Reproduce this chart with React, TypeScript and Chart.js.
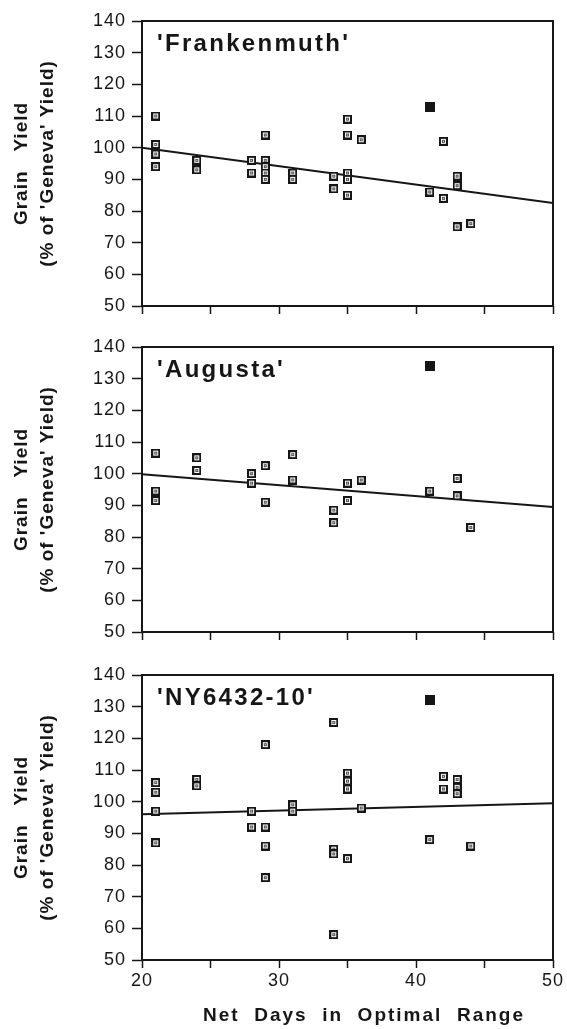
import React, { useEffect, useRef } from 'react';
import { Chart, registerables } from 'chart.js';

Chart.register(...registerables);

// ---------------- data ----------------
const xMin = 20;
const xMax = 50;
const yMin = 50;
const yMax = 140;
const xLabelValues = [20, 30, 40, 50];

const panelNames = ["'Frankenmuth'", "'Augusta'", "'NY6432-10'"];
const yTitleLines = ['Grain   Yield', "(% of 'Geneva' Yield)"];
const xTitle = 'Net  Days  in  Optimal  Range';

// 'Frankenmuth'
const frankX = [21, 21, 21, 21, 24, 24, 28, 28, 29, 29, 29, 29, 29, 31, 31, 34, 34, 35, 35, 35, 35, 35, 36, 41, 42, 42, 43, 43, 43, 44];
const frankY = [110, 101, 98, 94, 96, 93, 96, 92, 104, 96, 94, 92, 90, 92, 90, 91, 87, 109, 104, 92, 90, 85, 102.5, 86, 102, 84, 91, 88, 75, 76];
const frankOutX = [41];
const frankOutY = [113];
const frankLineX = [20, 50];
const frankLineY = [100, 82.5];

// 'Augusta'
const augX = [21, 21, 21, 24, 24, 28, 28, 29, 29, 31, 31, 34, 34, 35, 35, 36, 41, 43, 43, 44];
const augY = [106.5, 94.5, 91.5, 105, 101, 100, 97, 102.5, 91, 106, 98, 88.5, 84.5, 97, 91.5, 98, 94.5, 98.5, 93, 83];
const augOutX = [41];
const augOutY = [134];
const augLineX = [20, 50];
const augLineY = [99.8, 89.5];

// 'NY6432-10'
const nyX = [21, 21, 21, 21, 24, 24, 28, 28, 29, 29, 29, 29, 31, 31, 34, 34, 34, 34, 35, 35, 35, 35, 36, 41, 42, 42, 43, 43, 43, 44];
const nyY = [106, 103, 97, 87, 107, 105, 97, 92, 118, 92, 86, 76, 99, 97, 125, 85, 83.5, 58, 109, 106.5, 104, 82, 98, 88, 108, 104, 107, 104.5, 102.5, 86];
const nyOutX = [41];
const nyOutY = [132];
const nyLineX = [20, 50];
const nyLineY = [96, 99.5];

// ---------------- styling / layout ----------------
const FONT = '"Liberation Sans", Arial, Helvetica, sans-serif';
const INK = '#161616';
const W = 567;

type Spec = {
  name: string;
  xs: number[];
  ys: number[];
  ox: number[];
  oy: number[];
  lx: number[];
  ly: number[];
  top: number;
  height: number;
  areaTop: number;
  areaBottom: number;
  bottom: boolean;
};

const specs: Spec[] = [
  { name: panelNames[0], xs: frankX, ys: frankY, ox: frankOutX, oy: frankOutY, lx: frankLineX, ly: frankLineY, top: 0, height: 330, areaTop: 21, areaBottom: 306, bottom: false },
  { name: panelNames[1], xs: augX, ys: augY, ox: augOutX, oy: augOutY, lx: augLineX, ly: augLineY, top: 330, height: 325, areaTop: 17, areaBottom: 302, bottom: false },
  { name: panelNames[2], xs: nyX, ys: nyY, ox: nyOutX, oy: nyOutY, lx: nyLineX, ly: nyLineY, top: 655, height: 374, areaTop: 20, areaBottom: 305, bottom: true },
];

function makeOpenMarker(): HTMLCanvasElement {
  const c = document.createElement('canvas');
  c.width = 9;
  c.height = 9;
  const g = c.getContext('2d')!;
  g.fillStyle = INK;
  g.fillRect(0, 0, 9, 9);
  g.fillStyle = '#ffffff';
  g.fillRect(2, 2, 5, 5);
  g.fillStyle = '#555555';
  g.fillRect(3, 3, 3, 3);
  g.fillStyle = '#dddddd';
  g.fillRect(4, 4, 1, 1);
  return c;
}

function makeFilledMarker(): HTMLCanvasElement {
  const c = document.createElement('canvas');
  c.width = 10;
  c.height = 10;
  const g = c.getContext('2d')!;
  g.fillStyle = INK;
  g.fillRect(0, 0, 10, 10);
  return c;
}

function decorPlugin(spec: Spec) {
  return {
    id: 'decor',
    beforeDraw(chart: any) {
      (chart.ctx as any).letterSpacing = '1px';
    },
    afterDraw(chart: any) {
      const ctx = chart.ctx as CanvasRenderingContext2D;
      const a = chart.chartArea;
      ctx.save();
      // frame
      ctx.strokeStyle = INK;
      ctx.lineWidth = 2;
      ctx.strokeRect(a.left, a.top, a.right - a.left, a.bottom - a.top);

      // panel name
      ctx.fillStyle = INK;
      (ctx as any).letterSpacing = '2.3px';
      ctx.font = `bold 24px ${FONT}`;
      ctx.textAlign = 'left';
      ctx.textBaseline = 'alphabetic';
      ctx.fillText(spec.name, 157, a.top + 30);

      // y title (two lines, rotated)
      const cy = (a.top + a.bottom) / 2;
      (ctx as any).letterSpacing = '1px';
      ctx.font = `bold 19px ${FONT}`;
      ctx.textAlign = 'center';
      ctx.textBaseline = 'middle';
      const xs = [21.5, 48];
      yTitleLines.forEach((t, i) => {
        ctx.save();
        ctx.translate(xs[i], cy);
        ctx.rotate(-Math.PI / 2);
        ctx.fillText(t, 0, 0);
        ctx.restore();
      });

      // x title
      if (spec.bottom) {
        (ctx as any).letterSpacing = '2px';
        ctx.font = `bold 19px ${FONT}`;
        ctx.textAlign = 'center';
        ctx.textBaseline = 'alphabetic';
        ctx.fillText(xTitle, 364, 1021 - spec.top);
      }
      ctx.restore();
    },
  };
}

function makeChart(canvas: HTMLCanvasElement, spec: Spec, openImg: HTMLCanvasElement, filledImg: HTMLCanvasElement) {
  const pts = spec.xs.map((x, i) => ({ x, y: spec.ys[i] }));
  const outs = spec.ox.map((x, i) => ({ x, y: spec.oy[i] }));
  const line = spec.lx.map((x, i) => ({ x, y: spec.ly[i] }));
  return new Chart(canvas, {
    type: 'scatter',
    data: {
      datasets: [
        { data: pts, pointStyle: openImg as any, pointRadius: 5, pointHoverRadius: 5, order: 0 } as any,
        { data: outs, pointStyle: filledImg as any, pointRadius: 5, pointHoverRadius: 5, order: 0 } as any,
        {
          type: 'line',
          data: line,
          showLine: true,
          pointRadius: 0,
          borderColor: INK,
          borderWidth: 2,
          fill: false,
          order: 1,
        } as any,
      ],
    },
    options: {
      animation: false,
      responsive: false,
      maintainAspectRatio: false,
      events: [],
      layout: { padding: { left: 0, right: W - 553, top: spec.areaTop, bottom: 0 } },
      plugins: {
        legend: { display: false },
        tooltip: { enabled: false },
        title: { display: false },
      },
      scales: {
        x: {
          type: 'linear',
          min: xMin,
          max: xMax,
          afterFit: (s: any) => {
            s.height = spec.height - spec.areaBottom;
          },
          ticks: {
            stepSize: 5,
            autoSkip: false,
            maxRotation: 0,
            padding: 2,
            color: INK,
            font: { size: 18, family: FONT },
            callback: (v: any) => (spec.bottom && xLabelValues.includes(Number(v)) ? String(v) : ''),
          },
          grid: { drawOnChartArea: false, drawTicks: true, tickLength: 8, color: INK, tickColor: INK, tickWidth: 1.5 },
          border: { display: false },
        },
        y: {
          type: 'linear',
          min: yMin,
          max: yMax,
          afterFit: (s: any) => {
            s.width = 142;
          },
          ticks: {
            stepSize: 10,
            padding: 6,
            color: INK,
            font: { size: 18, family: FONT },
          },
          grid: { drawOnChartArea: false, drawTicks: true, tickLength: 10, color: INK, tickColor: INK, tickWidth: 1.5 },
          border: { display: false },
        },
      },
    },
    plugins: [decorPlugin(spec) as any],
  });
}

export default function App() {
  const r0 = useRef<HTMLCanvasElement>(null);
  const r1 = useRef<HTMLCanvasElement>(null);
  const r2 = useRef<HTMLCanvasElement>(null);

  useEffect(() => {
    const openImg = makeOpenMarker();
    const filledImg = makeFilledMarker();
    const refs = [r0, r1, r2];
    const charts = specs.map((s, i) => makeChart(refs[i].current!, s, openImg, filledImg));
    return () => charts.forEach((c) => c.destroy());
  }, []);

  const refs = [r0, r1, r2];
  return (
    <div style={{ position: 'absolute', left: 0, top: 0, width: W, height: 1029, background: '#fff' }}>
      {specs.map((s, i) => (
        <canvas
          key={i}
          ref={refs[i]}
          width={W}
          height={s.height}
          style={{ position: 'absolute', left: 0, top: s.top, width: W, height: s.height, display: 'block' }}
        />
      ))}
    </div>
  );
}
